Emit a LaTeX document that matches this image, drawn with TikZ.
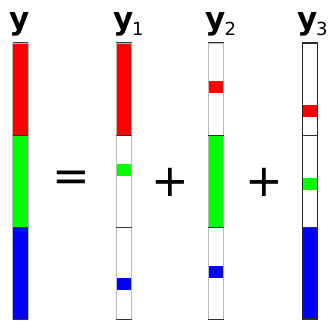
\documentclass[tikz,border=0pt]{standalone}
\usepackage{fontspec}
\setmainfont{DejaVu Sans}
\newcommand{\idx}[1]{\kern-1.2pt\raisebox{-6.5pt}{\fontsize{18}{18}\selectfont\mdseries #1}}
\begin{document}
\begin{tikzpicture}[
  x=1pt, y=-1pt,
  seg/.style={
    rectangle, inner sep=0pt, minimum width=15.5pt, minimum height=92pt
  },
  bar/.style={rectangle, inner sep=0pt, minimum width=15pt, minimum height=12pt},
  col/.style={
    rectangle, draw=gray!55, line width=0.8pt, inner sep=0pt,
    minimum width=15.5pt, minimum height=276pt
  },
  darkcol/.style={col, draw=black!85, line width=1.2pt},
  rim/.style={draw=black!80, line width=1.2pt},
  lbl/.style={anchor=base west, inner sep=0pt, font=\fontsize{31}{31}\selectfont\bfseries},
  op/.style={inner sep=0pt, font=\fontsize{45}{45}\selectfont}
]
\useasboundingbox (0,0) rectangle (328,320);

% --- Labels ---
\node[lbl] (ly)  at (9,    29.5) {y};
\node[lbl] (ly1) at (113,  29.5) {y\idx{1}};
\node[lbl] (ly2) at (205.5,29.5) {y\idx{2}};
\node[lbl] (ly3) at (297,  29.5) {y\idx{3}};

% --- Operators ---
\node[op] (eq)    at (71.5, 181.5) {=};
\node[op] (plus1) at (170.5,182) {+};
\node[op] (plus2) at (264,  182) {+};

% =========================================================
% y : three full blocks
% =========================================================
\node[seg, fill=red]   (ya) at (20.5, 89)  {};
\node[seg, fill=green] (yb) at (20.5, 181) {};
\node[seg, fill=blue]  (yc) at (20.5, 273) {};
\node[col] (ycol) at (20.5, 181) {};

% =========================================================
% y1 : red block, green and blue bars
% =========================================================
\node[seg, fill=red]   (y1a) at (124, 89)  {};
\node[seg, fill=white] (y1b) at (124, 181) {};
\node[seg, fill=white] (y1c) at (124, 273) {};
\node[bar, fill=green] (y1g) at (124, 170) {};
\node[bar, fill=blue]  (y1u) at (124, 284) {};
\node[col] (y1col) at (124, 181) {};

% =========================================================
% y2 : green block, red and blue bars
% =========================================================
\node[seg, fill=white] (y2a) at (216, 89)  {};
\node[seg, fill=green] (y2b) at (216, 181) {};
\node[seg, fill=white] (y2c) at (216, 273) {};
\node[bar, fill=red]   (y2r) at (216, 87)  {};
\node[bar, fill=blue]  (y2u) at (216, 272) {};
\node[col] (y2col) at (216, 181) {};

% =========================================================
% y3 : blue block, red and green bars
% =========================================================
\node[seg, fill=white] (y3a) at (310, 89)  {};
\node[seg, fill=white] (y3b) at (310, 181) {};
\node[seg, fill=blue]  (y3c) at (310, 273) {};
\node[bar, fill=red]   (y3r) at (310, 111) {};
\node[bar, fill=green] (y3g) at (310, 184) {};
\node[darkcol] (y3col) at (310, 181) {};

% Block edges
\foreach \c in {y, y1, y2, y3} {
  \draw[rim] (\c a.north west) -- (\c a.north east);
  \draw[rim] (\c a.south west) -- (\c a.south east);
  \draw[rim] (\c b.south west) -- (\c b.south east);
  \draw[rim] (\c c.south west) -- (\c c.south east);
}

\end{tikzpicture}
\end{document}
